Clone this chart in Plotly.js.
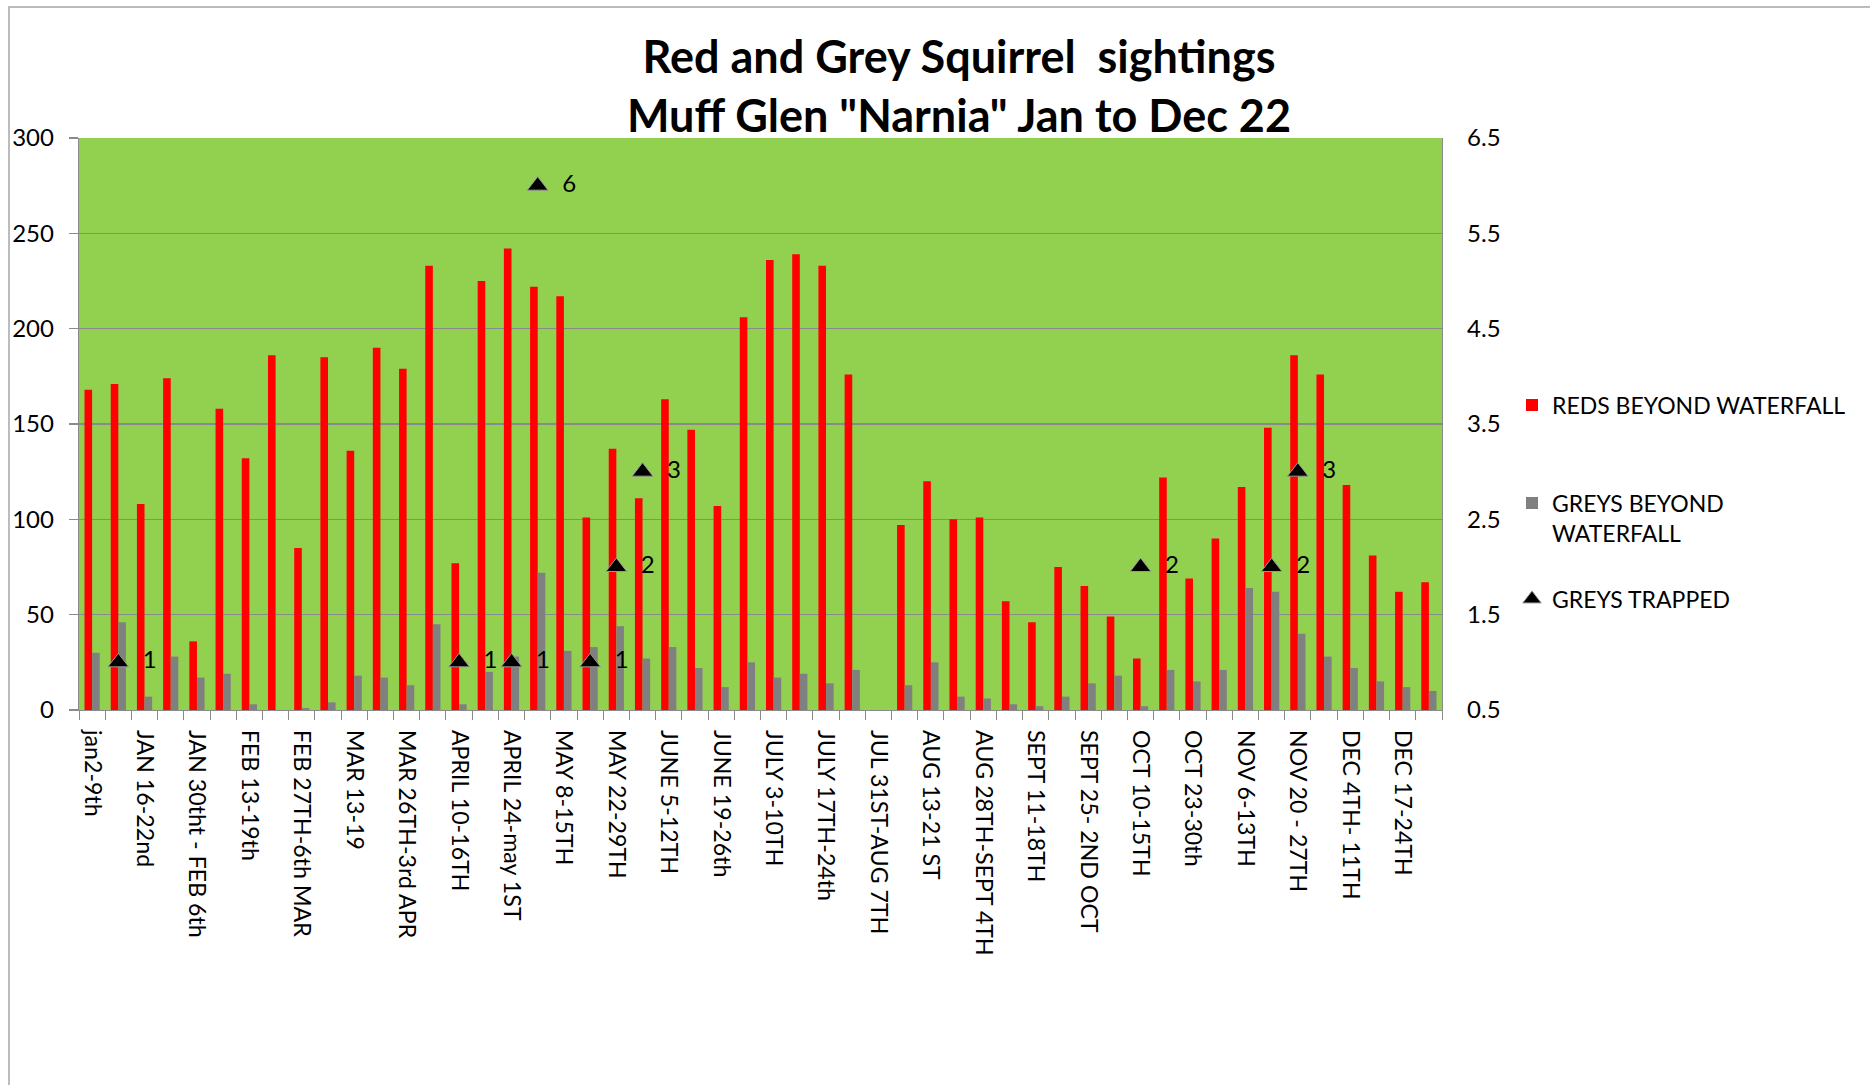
<!DOCTYPE html>
<html>
<head>
<meta charset="utf-8">
<script src="https://cdn.plot.ly/plotly-3.0.1.min.js"></script>
<style>
  html, body { margin: 0; padding: 0; background: #ffffff; }
  #chart { width: 1870px; height: 1085px; }
</style>
</head>
<body>
<div id="chart"></div>
<script>
// Week labels shown on the axis (every second week)
const weekLabels = [
  "jan2-9th", "JAN 16-22nd", "JAN 30tht - FEB 6th", "FEB 13-19th",
  "FEB 27TH-6th MAR", "MAR 13-19", "MAR 26TH-3rd APR", "APRIL 10-16TH",
  "APRIL 24-may 1ST", "MAY 8-15TH", "MAY 22-29TH", "JUNE 5-12TH",
  "JUNE 19-26th", "JULY 3-10TH", "JULY 17TH-24th", "JUL 31ST-AUG 7TH",
  "AUG 13-21 ST", "AUG 28TH-SEPT 4TH", "SEPT 11-18TH", "SEPT 25- 2ND OCT",
  "OCT 10-15TH", "OCT 23-30th", "NOV 6-13TH", "NOV 20 - 27TH",
  "DEC 4TH- 11TH", "DEC 17-24TH"
];

// Weekly counts (52 weeks)
const redsBeyondWaterfall = [
  168, 171, 108, 174, 36, 158, 132, 186, 85, 185,
  136, 190, 179, 233, 77, 225, 242, 222, 217, 101,
  137, 111, 163, 147, 107, 206, 236, 239, 233, 176,
  null, 97, 120, 100, 101, 57, 46, 75, 65, 49,
  27, 122, 69, 90, 117, 148, 186, 176, 118, 81,
  62, 67
];

const greysBeyondWaterfall = [
  30, 46, 7, 28, 17, 19, 3, 0, 1, 4,
  18, 17, 13, 45, 3, 20, 28, 72, 31, 33,
  44, 27, 33, 22, 12, 25, 17, 19, 14, 21,
  null, 13, 25, 7, 6, 3, 2, 7, 14, 18,
  2, 21, 15, 21, 64, 62, 40, 28, 22, 15,
  12, 10
];

const greysTrapped = [
  null, 1, null, null, null, null, null, null, null, null,
  null, null, null, null, 1, null, 1, 6, null, 1,
  2, 3, null, null, null, null, null, null, null, null,
  null, null, null, null, null, null, null, null, null, null,
  2, null, null, null, null, 2, 3, null, null, null,
  null, null
];

const yTicksLeft = [0, 50, 100, 150, 200, 250, 300];
const yTicksRight = [0.5, 1.5, 2.5, 3.5, 4.5, 5.5, 6.5];

const weekIndex = redsBeyondWaterfall.map((_, i) => i);
const labelIndex = weekLabels.map((_, i) => i * 2);

const FONT = "Lato, 'Open Sans', sans-serif";
const GRID = "#8a8a8a";

const traces = [
  {
    type: "bar",
    name: "REDS BEYOND WATERFALL",
    x: weekIndex,
    y: redsBeyondWaterfall,
    marker: { color: "#ff0000" },
    legend: "legend",
    hoverinfo: "y"
  },
  {
    type: "bar",
    name: "GREYS BEYOND<br>WATERFALL",
    x: weekIndex,
    y: greysBeyondWaterfall,
    marker: { color: "#808080" },
    legend: "legend2",
    hoverinfo: "y"
  },
  {
    type: "scatter",
    mode: "markers+text",
    name: "GREYS TRAPPED",
    x: weekIndex,
    y: greysTrapped,
    yaxis: "y2",
    marker: { symbol: "triangle-up", size: 18, color: "#000000", line: { color: "#9a9a9a", width: 1 } },
    text: greysTrapped.map(v => v == null ? "" : "\u00a0\u00a0" + v),
    textposition: "middle right",
    textfont: { family: FONT, size: 24, color: "#000000" },
    legend: "legend3",
    cliponaxis: false,
    hoverinfo: "y"
  }
];

const legendBase = {
  xref: "container", yref: "paper",
  x: 1512 / 1870, xanchor: "left", yanchor: "middle",
  bgcolor: "rgba(0,0,0,0)",
  font: { family: FONT, size: 23, color: "#000000" },
  valign: "top"
};

const layout = {
  width: 1870,
  height: 1085,
  paper_bgcolor: "#ffffff",
  plot_bgcolor: "#92d050",
  margin: { l: 79, r: 428, t: 138, b: 375, pad: 0, autoexpand: false },
  barmode: "group",
  bargap: 0.42,
  bargroupgap: 0,
  showlegend: true,
  title: {
    text: "Red and Grey Squirrel&nbsp; sightings<br>Muff Glen \"Narnia\" Jan to Dec 22",
    x: 959 / 1870,
    xref: "container",
    xanchor: "center",
    y: 1 - 73 / 1085,
    yref: "container",
    yanchor: "top",
    font: { family: FONT, size: 45, color: "#000000", weight: "bold" }
  },
  xaxis: {
    range: [-0.5, 51.5],
    tickmode: "array",
    tickvals: labelIndex,
    ticktext: weekLabels,
    tickangle: 90,
    ticks: "",
    ticklabelstandoff: 14,
    showgrid: false,
    zeroline: false,
    showline: true,
    linecolor: GRID,
    linewidth: 1.3,
    tickfont: { family: FONT, size: 23.2, color: "#000000" },
    minor: {
      tickmode: "linear",
      tick0: -0.5,
      dtick: 1,
      ticks: "outside",
      ticklen: 9,
      tickcolor: GRID,
      tickwidth: 1,
      showgrid: false
    },
    fixedrange: true
  },
  yaxis: {
    range: [0, 300],
    tickmode: "array",
    tickvals: yTicksLeft,
    ticks: "outside",
    ticklen: 9,
    tickcolor: GRID,
    tickwidth: 1.3,
    ticklabelstandoff: 10,
    showgrid: true,
    gridcolor: GRID,
    gridwidth: 1.3,
    zeroline: false,
    showline: true,
    linecolor: GRID,
    linewidth: 1.3,
    tickfont: { family: FONT, size: 24, color: "#000000" },
    fixedrange: true
  },
  yaxis2: {
    overlaying: "y",
    side: "right",
    range: [0.5, 6.5],
    tickmode: "array",
    tickvals: yTicksRight,
    ticktext: yTicksRight.map(v => v.toFixed(1)),
    ticks: "",
    ticklabelstandoff: 19,
    showgrid: false,
    zeroline: false,
    showline: true,
    linecolor: GRID,
    linewidth: 1.3,
    tickfont: { family: FONT, size: 24, color: "#000000" },
    fixedrange: true
  },
  legend: Object.assign({}, legendBase, { y: (710 - 405) / 572 }),
  legend2: Object.assign({}, legendBase, { y: (710 - 518) / 572 }),
  legend3: Object.assign({}, legendBase, { y: (710 - 599) / 572 }),
  shapes: [
    {
      type: "rect",
      xref: "paper", yref: "paper",
      x0: (9 - 79) / 1363, x1: 1.6,
      y0: -1, y1: (710 - 7) / 572,
      line: { color: "#a6a6a6", width: 1.5 },
      fillcolor: "rgba(0,0,0,0)",
      layer: "below"
    }
  ]
};

Plotly.newPlot("chart", traces, layout, { displayModeBar: false, staticPlot: true });
</script>
</body>
</html>
